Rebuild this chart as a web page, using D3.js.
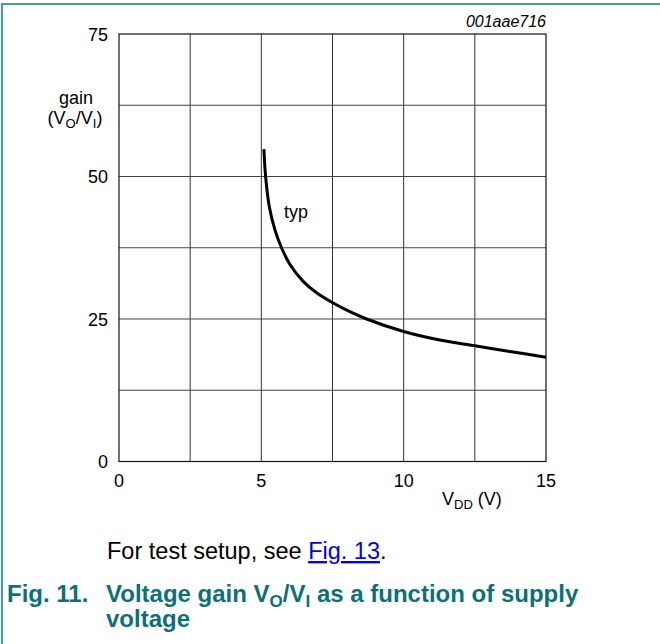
<!DOCTYPE html>
<html>
<head>
<meta charset="utf-8">
<script src="https://cdn.jsdelivr.net/npm/d3@7"></script>
<style>
  body { margin: 0; background: #fff; }
  svg { font-family: "Liberation Sans", Arial, sans-serif; }
</style>
</head>
<body>
<div id="chart"></div>
<script>
// data (typ)
const vdd  = [5.09, 5.15, 5.28, 5.48, 5.71, 6.0, 6.47, 6.94, 7.49, 8.11, 8.7, 10, 11.27, 12.5, 13.73, 15]
const gain = [54.8, 50, 44.7, 40.6, 37.5, 34.6, 31.6, 29.6, 27.9, 26.3, 25, 22.8, 21.3, 20.3, 19.3, 18.3]
const xTicks = [0, 5, 10, 15]
const yTicks = [0, 25, 50, 75]
const xGrid = [2.5, 5, 7.5, 10, 12.5]
const yGrid = [12.5, 25, 37.5, 50, 62.5]

const W = 660, H = 644
const pLeft = 119, pRight = 546, pTop = 34, pBottom = 461.5

const svg = d3.select('#chart').append('svg')
  .attr('width', W)
  .attr('height', H)

// frame of the page
svg.append('path')
  .attr('d', `M2,${H + 5}V4H${W + 5}`)
  .attr('fill', 'none')
  .attr('stroke', '#4a9aa3')
  .attr('stroke-width', 2)

const x = d3.scaleLinear().domain([0, 15]).range([pLeft, pRight])
const y = d3.scaleLinear().domain([0, 75]).range([pBottom, pTop])

// grid
const g = svg.append('g')
g.selectAll('line.vx').data(xGrid).join('line')
  .attr('x1', d => x(d)).attr('x2', d => x(d))
  .attr('y1', pTop).attr('y2', pBottom)
  .attr('stroke', '#333').attr('stroke-width', 1)
g.selectAll('line.hy').data(yGrid).join('line')
  .attr('y1', d => y(d)).attr('y2', d => y(d))
  .attr('x1', pLeft).attr('x2', pRight)
  .attr('stroke', '#444').attr('stroke-width', 1)
g.append('rect')
  .attr('x', pLeft).attr('y', pTop)
  .attr('width', pRight - pLeft).attr('height', pBottom - pTop)
  .attr('fill', 'none').attr('stroke', '#111').attr('stroke-width', 1.2)

// ticks
svg.append('g').selectAll('text').data(xTicks).join('text')
  .attr('x', d => x(d)).attr('y', 487)
  .attr('text-anchor', 'middle')
  .style('font-size', '18px')
  .text(d => d)
svg.append('g').selectAll('text').data(yTicks).join('text')
  .attr('x', 108).attr('y', d => y(d) + 6.5)
  .attr('text-anchor', 'end')
  .style('font-size', '18px')
  .text(d => d)

// axis titles
svg.append('text').attr('x', 76).attr('y', 104).attr('text-anchor', 'middle')
  .style('font-size', '18px').text('gain')
const yl = svg.append('text').attr('x', 75).attr('y', 124).attr('text-anchor', 'middle')
  .style('font-size', '18px')
yl.append('tspan').text('(V')
yl.append('tspan').attr('dy', 4).style('font-size', '13px').text('O')
yl.append('tspan').attr('dy', -4).text('/V')
yl.append('tspan').attr('dy', 4).style('font-size', '13px').text('I')
yl.append('tspan').attr('dy', -4).text(')')

const xl = svg.append('text').attr('x', 442).attr('y', 505).style('font-size', '18px')
xl.append('tspan').text('V')
xl.append('tspan').attr('dy', 4).style('font-size', '13px').text('DD')
xl.append('tspan').attr('dy', -4).text(' (V)')

svg.append('text').attr('x', pRight).attr('y', 27).attr('text-anchor', 'end')
  .style('font-size', '16px').style('font-style', 'italic').text('001aae716')

// curve
const pts = vdd.map((v, i) => [v, gain[i]])
svg.append('path')
  .datum(pts)
  .attr('fill', 'none')
  .attr('stroke', '#000')
  .attr('stroke-width', 3)
  .attr('d', d3.line().x(d => x(d[0])).y(d => y(d[1])).curve(d3.curveCatmullRom.alpha(0.5)))

svg.append('text').attr('x', 284).attr('y', 218).style('font-size', '18px').text('typ')

// caption
const cap = svg.append('text').attr('x', 107).attr('y', 559).style('font-size', '23.5px')
cap.append('tspan').text('For test setup, see ')
cap.append('tspan').attr('fill', '#0000ee').attr('text-decoration', 'underline').text('Fig. 13')
cap.append('tspan').text('.')

const teal = '#0d6f78'
const t1 = svg.append('text').attr('x', 7).attr('y', 602)
  .style('font-size', '24px').style('font-weight', 'bold').attr('fill', teal)
t1.append('tspan').text('Fig. 11.')
t1.append('tspan').attr('x', 106).text('Voltage gain V')
t1.append('tspan').attr('dy', 5).style('font-size', '17px').text('O')
t1.append('tspan').attr('dy', -5).text('/V')
t1.append('tspan').attr('dy', 5).style('font-size', '17px').text('I')
t1.append('tspan').attr('dy', -5).text(' as a function of supply')
svg.append('text').attr('x', 106).attr('y', 627)
  .style('font-size', '24px').style('font-weight', 'bold').attr('fill', teal)
  .text('voltage')
</script>
</body>
</html>
